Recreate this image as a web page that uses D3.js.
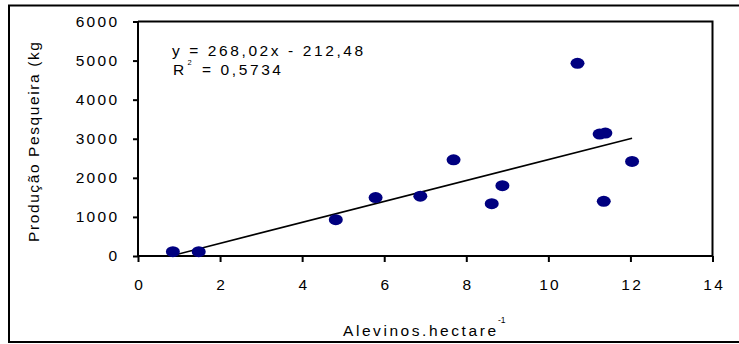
<!DOCTYPE html>
<html><head><meta charset="utf-8">
<script src="https://cdn.jsdelivr.net/npm/d3@7"></script>
<style>
body{margin:0;background:#fff;}
text{font-family:"Liberation Sans",Arial,sans-serif;fill:#000;}
</style></head>
<body>
<svg id="c" width="739" height="344"></svg>
<script>
const alevinos = [0.85, 1.48, 4.82, 5.79, 6.88, 7.69, 8.62, 8.88, 10.71, 11.25, 11.39, 11.35, 12.04];
const producao = [110, 110, 930, 1495, 1530, 2460, 1340, 1800, 4930, 3120, 3145, 1400, 2420];
const xTicks = [0, 2, 4, 6, 8, 10, 12, 14];
const yTicks = [0, 1000, 2000, 3000, 4000, 5000, 6000];
const slope = 268.02, intercept = -212.48;
const eqText = "y = 268,02x - 212,48";
const r2Text = "= 0,5734";
const xTitle = "Alevinos.hectare";
const yTitle = "Produção Pesqueira (kg)";

const svg = d3.select("#c");
const x = d3.scaleLinear().domain([0, 14]).range([138, 712.5]);
const y = d3.scaleLinear().domain([0, 6000]).range([256, 21.5]);

// outer border
svg.append("rect").attr("x", 9).attr("y", 5.5).attr("width", 740).attr("height", 336.5)
  .attr("fill", "none").attr("stroke", "#000").attr("stroke-width", 2);

// plot frame top/right
svg.append("path")
  .attr("d", `M${x(0)},${y(6000)}H${x(14)}V${y(0)}`)
  .attr("fill", "none").attr("stroke", "#000").attr("stroke-width", 2);

const fs = 15.5;
// x axis
const xa = svg.append("g").attr("transform", `translate(0,${y(0)})`)
  .call(d3.axisBottom(x).tickValues(xTicks).tickSize(6).tickPadding(17).tickFormat(d3.format("d")));
xa.select(".domain").attr("stroke-width", 2).attr("d", `M${x(0)},0H${x(14)}`);
xa.selectAll(".tick line").attr("stroke-width", 2);
xa.selectAll("text").attr("font-size", fs).attr("font-family", "Liberation Sans, Arial")
  .attr("letter-spacing", "2.3px").attr("dx", 1.2);

// y axis
const ya = svg.append("g").attr("transform", `translate(${x(0)},0)`)
  .call(d3.axisLeft(y).tickValues(yTicks).tickSize(5).tickPadding(16).tickFormat(d3.format("d")));
ya.select(".domain").attr("stroke-width", 2).attr("d", `M0,${y(0)}V${y(6000)}`);
ya.selectAll(".tick line").attr("stroke-width", 2);
ya.selectAll("text").attr("font-size", fs).attr("font-family", "Liberation Sans, Arial")
  .attr("letter-spacing", "2.3px").attr("dx", 2.3);

// trend line
const xmin = d3.min(alevinos), xmax = d3.max(alevinos);
svg.append("line")
  .attr("x1", x(xmin)).attr("y1", y(slope * xmin + intercept))
  .attr("x2", x(xmax)).attr("y2", y(slope * xmax + intercept))
  .attr("stroke", "#000").attr("stroke-width", 1.6);

// points
svg.append("g").selectAll("ellipse").data(alevinos.map((v, i) => [v, producao[i]]))
  .join("ellipse")
  .attr("cx", d => x(d[0])).attr("cy", d => y(d[1]))
  .attr("rx", 7).attr("ry", 5.5).attr("fill", "#000080");

// equation
svg.append("text").attr("x", 172).attr("y", 56).attr("font-size", fs).attr("letter-spacing", "2.6px").text(eqText);
svg.append("text").attr("x", 173).attr("y", 75).attr("font-size", fs).text("R");
svg.append("text").attr("x", 187.5).attr("y", 64.5).attr("font-size", 7.5).text("2");
svg.append("text").attr("x", 202).attr("y", 75).attr("font-size", fs).attr("letter-spacing", "2.6px").text(r2Text);

// x title
svg.append("text").attr("x", 343).attr("y", 336).attr("font-size", fs)
  .attr("textLength", 153).attr("lengthAdjust", "spacing").text(xTitle);
svg.append("text").attr("x", 498).attr("y", 323).attr("font-size", 8.5).text("-1");

// y title (clipped at top)
svg.append("clipPath").attr("id", "yc").append("rect").attr("x", 0).attr("y", 43).attr("width", 100).attr("height", 300);
svg.append("g").attr("clip-path", "url(#yc)")
  .append("text").attr("transform", "translate(38.5,242) rotate(-90)")
  .attr("font-size", fs).attr("letter-spacing", "1.6px").text(yTitle);
</script>
</body></html>
